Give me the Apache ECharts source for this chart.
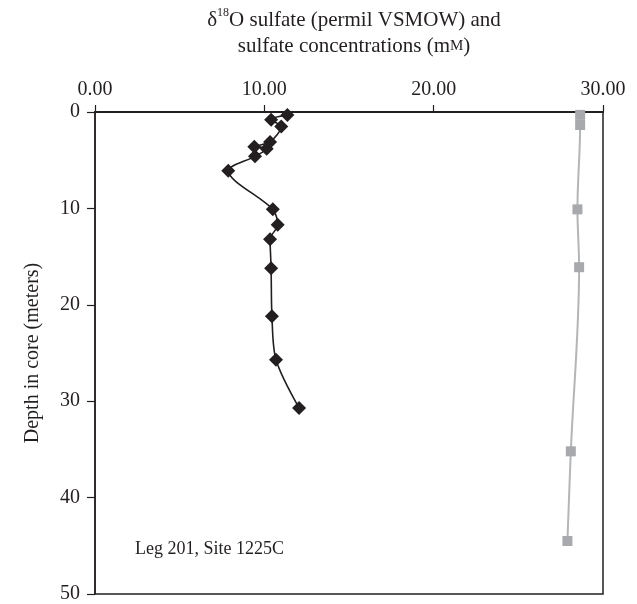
<!DOCTYPE html>
<html>
<head>
<meta charset="utf-8">
<script src="https://cdn.jsdelivr.net/npm/echarts@6/dist/echarts.min.js"></script>
<style>
  html, body { margin: 0; padding: 0; background: #fff; }
  #chart { width: 637px; height: 604px; }
</style>
</head>
<body>
<div id="chart"></div>
<script>
  // delta 18O sulfate, [value, depth]
  var isotopeData = [
    [11.36, 0.3], [10.4, 0.8], [11.0, 1.5], [10.34, 3.1], [9.41, 3.6],
    [10.14, 3.8], [9.45, 4.6], [7.87, 6.1], [10.5, 10.1], [10.79, 11.7],
    [10.34, 13.2], [10.4, 16.2], [10.45, 21.2], [10.69, 25.7], [12.05, 30.7]
  ]
  // sulfate concentration (mM), [value, depth]
  var sulfateData = [
    [28.65, 0.3], [28.65, 1.35], [28.49, 10.1], [28.59, 16.1],
    [28.1, 35.2], [27.9, 44.5]
  ]
  var xTicks = [0, 10, 20, 30]
  var yTicks = [0, 10, 20, 30, 40, 50]

  var ink = '#231f20'
  var font = 'Liberation Serif'

  var chart = echarts.init(document.getElementById('chart'))
  var options = {
    backgroundColor: '#fff',
    animation: false,
    textStyle: { fontFamily: font, color: ink },
    title: {
      left: 349,
      top: 2,
      textAlign: 'center',
      text: '{a|δ}{s|18}{a|O sulfate (permil VSMOW) and}\n{a|sulfate concentrations (m}{c|M}{a|)}',
      textStyle: {
        fontWeight: 'normal',
        rich: {
          a: { fontFamily: font, fontSize: 21, fontWeight: 'normal', color: ink, lineHeight: 26 },
          s: { fontFamily: font, fontSize: 12, fontWeight: 'normal', color: ink, lineHeight: 14, verticalAlign: 'top' },
          c: { fontFamily: font, fontSize: 15, fontWeight: 'normal', color: ink, lineHeight: 26 }
        }
      }
    },
    grid: {
      left: 95,
      right: 34,
      top: 112,
      bottom: 9,
      show: true,
      borderColor: ink,
      borderWidth: 1.5
    },
    xAxis: {
      type: 'value',
      position: 'top',
      min: xTicks[0],
      max: xTicks[xTicks.length - 1],
      interval: 10,
      axisLine: { show: true, lineStyle: { color: ink, width: 2 } },
      axisTick: { show: true, length: 7, lineStyle: { color: ink, width: 1.2 } },
      axisLabel: {
        margin: 12,
        fontSize: 20,
        fontFamily: font,
        color: ink,
        formatter: function(v) { return v.toFixed(2) }
      },
      splitLine: { show: false }
    },
    yAxis: {
      type: 'value',
      inverse: true,
      min: yTicks[0],
      max: yTicks[yTicks.length - 1],
      interval: 10,
      name: 'Depth in core (meters)',
      nameLocation: 'middle',
      nameGap: 52,
      nameRotate: 90,
      nameTextStyle: { fontSize: 20, fontFamily: font, color: ink },
      axisLine: { show: true, lineStyle: { color: ink, width: 1.5 } },
      axisTick: { show: true, length: 8, lineStyle: { color: ink, width: 1.2 } },
      axisLabel: { margin: 15, fontSize: 20, fontFamily: font, color: ink },
      splitLine: { show: false }
    },
    graphic: [{
      type: 'text',
      left: 135,
      top: 540,
      style: { text: 'Leg 201, Site 1225C', font: '18px "Liberation Serif"', fill: ink }
    }],
    series: [{
      name: 'isotope',
      type: 'line',
      data: isotopeData,
      smooth: 0.3,
      symbol: 'diamond',
      symbolSize: 14,
      lineStyle: { color: ink, width: 1.6 },
      itemStyle: { color: ink },
      z: 3
    }, {
      name: 'sulfate',
      type: 'line',
      data: sulfateData,
      smooth: 0.35,
      symbol: 'rect',
      symbolSize: 10,
      lineStyle: { color: '#b3b5b7', width: 2 },
      itemStyle: { color: '#a7a9ac' },
      z: 2
    }]
  }
  chart.setOption(options, true)
</script>
</body>
</html>
